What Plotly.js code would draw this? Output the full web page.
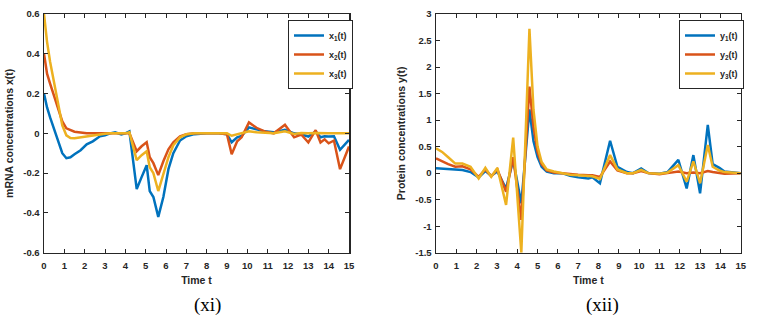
<!DOCTYPE html>
<html>
<head>
<meta charset="utf-8">
<script src="https://cdn.plot.ly/plotly-3.0.1.min.js"></script>
<style>
html,body{margin:0;padding:0;background:#fff;}
#chart{width:762px;height:317px;}
</style>
</head>
<body>
<div id="chart"></div>
<script>
// ---- Left panel (xi): mRNA concentrations ----
var tLeft = [0, 0.15, 0.3, 0.5, 0.7, 0.9, 1.1, 1.3, 1.5, 1.8, 2.1, 2.4, 2.75, 3.0, 3.25, 3.5, 3.8, 4.0, 4.2,
  4.56, 4.8, 5.05, 5.2, 5.38, 5.62, 5.87, 6.12, 6.36, 6.69, 7.0, 7.4, 8.0, 8.6, 9.0, 9.23, 9.5, 9.72,
  10.08, 10.45, 10.85, 11.3, 11.85, 12.3, 12.65, 13.0, 13.36, 13.6, 13.8, 14.0, 14.26, 14.56, 15];
var x1 = [0.2, 0.13, 0.08, 0.02, -0.04, -0.1, -0.125, -0.12, -0.105, -0.085, -0.055, -0.04, -0.015, -0.01, 0.0, 0.005, -0.005, 0.0, 0.01,
  -0.28, -0.22, -0.16, -0.29, -0.32, -0.42, -0.32, -0.18, -0.1, -0.036, -0.015, -0.004, 0.0, 0.0, -0.005, -0.045, -0.02, -0.013,
  0.03, 0.02, 0.01, 0.005, 0.018, 0.0, -0.005, -0.016, 0.01, -0.02, -0.015, -0.016, -0.015, -0.083, -0.033];
var x2 = [0.4, 0.3, 0.25, 0.19, 0.12, 0.06, 0.025, 0.015, 0.008, 0.004, 0.0, 0.0, 0.0, 0.0, 0.0, 0.0, 0.0, 0.0, 0.0,
  -0.09, -0.065, -0.045, -0.12, -0.15, -0.21, -0.14, -0.08, -0.045, -0.015, -0.005, 0.0, 0.0, 0.0, -0.005, -0.105, -0.04, -0.02,
  0.055, 0.028, 0.01, 0.0, 0.043, -0.02, -0.006, -0.046, 0.016, -0.046, -0.03, -0.05, -0.036, -0.18, -0.066];
var x3 = [0.6, 0.46, 0.36, 0.25, 0.135, 0.04, -0.01, -0.024, -0.025, -0.02, -0.015, -0.01, -0.005, -0.002, 0.0, 0.0, 0.0, 0.0, 0.005,
  -0.135, -0.11, -0.09, -0.17, -0.2, -0.29, -0.2, -0.12, -0.06, -0.02, -0.005, 0.0, 0.0, 0.0, 0.0, -0.012, -0.005, 0.0,
  0.01, 0.005, 0.003, 0.0, 0.01, -0.003, 0.002, 0.0, 0.002, 0.0, 0.0, 0.0, 0.0, 0.0, 0.0];

// ---- Right panel (xii): Protein concentrations ----
var tRight = [0, 0.3, 0.6, 0.95, 1.3, 1.7, 2.1, 2.43, 2.72, 3.02, 3.45, 3.8, 4.2, 4.6, 4.8, 5.0, 5.2, 5.45, 5.8, 6.2,
  6.6, 7.0, 7.5, 7.7, 8.07, 8.57, 8.93, 9.4, 9.7, 10.1, 10.45, 11.0, 11.4, 11.93, 12.34, 12.67, 13.0, 13.38, 13.62, 13.95, 14.2, 15];
var y1 = [0.09, 0.085, 0.075, 0.065, 0.06, 0.02, -0.08, 0.04, -0.05, 0.03, -0.29, 0.25, -0.57, 1.2, 0.6, 0.3, 0.12, 0.03, 0.0, 0.0,
  -0.05, -0.08, -0.1, -0.08, -0.19, 0.61, 0.12, 0.02, 0.0, 0.09, 0.0, -0.01, 0.02, 0.25, -0.29, 0.34, -0.38, 0.91, 0.17, 0.1, 0.03, 0.0];
var y2 = [0.28, 0.22, 0.17, 0.12, 0.13, 0.07, -0.07, 0.07, -0.06, 0.07, -0.35, 0.3, -0.88, 1.63, 0.87, 0.4, 0.17, 0.05, 0.01, 0.0,
  -0.02, -0.03, -0.04, -0.04, -0.07, 0.22, 0.05, 0.0, 0.0, 0.04, 0.0, -0.02, 0.0, 0.03, 0.0, 0.01, 0.0, 0.04, 0.02, 0.0, -0.01, 0.0];
var y3 = [0.47, 0.4, 0.3, 0.18, 0.18, 0.12, -0.1, 0.1, -0.07, 0.1, -0.6, 0.67, -1.5, 2.72, 1.19, 0.5, 0.21, 0.07, 0.03, 0.0,
  -0.03, -0.04, -0.06, -0.06, -0.11, 0.34, 0.07, 0.0, 0.0, 0.06, 0.0, -0.01, 0.01, 0.15, -0.16, 0.22, -0.19, 0.53, 0.12, 0.05, 0.02, 0.0];

// ---- Tick labels ----
var xTickVals = [0,1,2,3,4,5,6,7,8,9,10,11,12,13,14,15];
var xTickText = ['0','1','2','3','4','5','6','7','8','9','10','11','12','13','14','15'];
var yLeftTickVals = [-0.6,-0.4,-0.2,0,0.2,0.4,0.6];
var yLeftTickText = ['-0.6','-0.4','-0.2','0','0.2','0.4','0.6'];
var yRightTickVals = [-1.5,-1,-0.5,0,0.5,1,1.5,2,2.5,3];
var yRightTickText = ['-1.5','-1','-0.5','0','0.5','1','1.5','2','2.5','3'];

var names = ['x<sub>1</sub>(t)','x<sub>2</sub>(t)','x<sub>3</sub>(t)','y<sub>1</sub>(t)','y<sub>2</sub>(t)','y<sub>3</sub>(t)'];
var colors = ['#0072BD','#D95319','#EDB120'];

var FONT = 'Liberation Sans, Arial, sans-serif';
var TXT = '#262626';

function tr(x, y, i, ax, name, leg) {
  return {x: x, y: y, type: 'scatter', mode: 'lines', name: name,
    xaxis: ax[0], yaxis: ax[1], legend: leg,
    line: {color: colors[i], width: 2.5}};
}
var data = [
  tr(tLeft, x1, 0, ['x','y'], names[0], 'legend'),
  tr(tLeft, x2, 1, ['x','y'], names[1], 'legend'),
  tr(tLeft, x3, 2, ['x','y'], names[2], 'legend'),
  tr(tRight, y1, 0, ['x2','y2'], names[3], 'legend2'),
  tr(tRight, y2, 1, ['x2','y2'], names[4], 'legend2'),
  tr(tRight, y3, 2, ['x2','y2'], names[5], 'legend2')
];

function axisBase(extra) {
  var a = {showline: true, linecolor: TXT, linewidth: 1.5, mirror: 'ticks',
    ticks: 'inside', ticklen: 4, tickwidth: 1, tickcolor: TXT,
    showgrid: false, zeroline: false,
    tickfont: {family: FONT, size: 9.5, color: TXT, weight: 'bold'}};
  for (var k in extra) a[k] = extra[k];
  return a;
}
var titleFont = {family: FONT, size: 10.5, color: TXT, weight: 'bold'};
var yDom = [1 - 252.7/317, 1 - 14/317];

var layout = {
  width: 762, height: 317,
  margin: {l: 0, r: 0, t: 0, b: 0},
  paper_bgcolor: '#fff', plot_bgcolor: '#fff',
  showlegend: true,
  xaxis: axisBase({domain: [44/762, 349/762], range: [0, 15], tickvals: xTickVals, ticktext: xTickText,
    anchor: 'y', ticklabelstandoff: 3, title: {text: 'Time t', font: titleFont, standoff: 7}}),
  yaxis: axisBase({domain: yDom, range: [-0.6, 0.6], tickvals: yLeftTickVals, ticktext: yLeftTickText,
    anchor: 'x', ticklabelstandoff: 1, title: {text: 'mRNA concentrations x(t)', font: titleFont, standoff: 7}}),
  xaxis2: axisBase({domain: [436/762, 740.7/762], range: [0, 15], tickvals: xTickVals, ticktext: xTickText,
    anchor: 'y2', ticklabelstandoff: 3, title: {text: 'Time t', font: titleFont, standoff: 7}}),
  yaxis2: axisBase({domain: yDom, range: [-1.5, 3], tickvals: yRightTickVals, ticktext: yRightTickText,
    anchor: 'x2', ticklabelstandoff: 1, title: {text: 'Protein concentrations y(t)', font: titleFont, standoff: 7}}),
  legend: {x: 288/762, y: 1 - 20/317, xanchor: 'left', yanchor: 'top',
    bgcolor: '#fff', bordercolor: TXT, borderwidth: 1,
    font: {family: FONT, size: 9, color: TXT, weight: 'bold'}, itemwidth: 30, tracegroupgap: 0},
  legend2: {x: 679/762, y: 1 - 20/317, xanchor: 'left', yanchor: 'top',
    bgcolor: '#fff', bordercolor: TXT, borderwidth: 1,
    font: {family: FONT, size: 9, color: TXT, weight: 'bold'}, itemwidth: 30, tracegroupgap: 0},
  annotations: [
    {text: '(xi)', x: 207/762, y: 1 - 305/317, xref: 'paper', yref: 'paper', showarrow: false,
      xanchor: 'center', yanchor: 'middle', font: {family: 'Liberation Serif, Times New Roman, serif', size: 19, color: '#000'}},
    {text: '(xii)', x: 602/762, y: 1 - 305/317, xref: 'paper', yref: 'paper', showarrow: false,
      xanchor: 'center', yanchor: 'middle', font: {family: 'Liberation Serif, Times New Roman, serif', size: 19, color: '#000'}}
  ]
};

Plotly.newPlot('chart', data, layout, {staticPlot: true, displayModeBar: false});
</script>
</body>
</html>
